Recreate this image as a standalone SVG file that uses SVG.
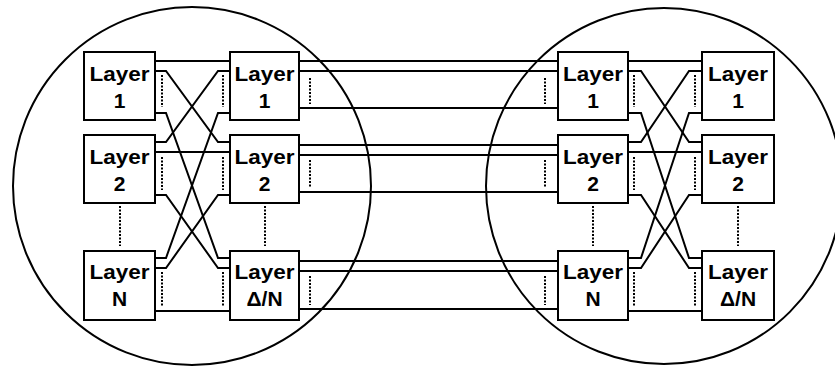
<svg xmlns="http://www.w3.org/2000/svg" width="835" height="369" viewBox="0 0 835 369">
<style>
.c{fill:none;stroke:#000;stroke-width:2}
.b{fill:#fff;stroke:#000;stroke-width:2}
.w{fill:none;stroke:#000;stroke-width:2;stroke-linejoin:miter}
.d{fill:none;stroke:#000;stroke-width:2;stroke-dasharray:2 1.5}
text{font-family:"Liberation Sans",Arial,Helvetica,sans-serif;font-weight:bold;font-size:21px;text-anchor:middle;fill:#000}
</style>
<rect width="835" height="369" fill="#fff"/>
<g id="clusters">
<circle class="c" cx="192" cy="186" r="179"/>
<circle class="c" cx="664" cy="186" r="178"/>
</g>
<g id="connectors">
<!-- left circle internal -->
<path class="w" d="M155 61H230"/>
<path class="w" d="M155 71H166L218 142H230"/>
<path class="w" d="M155 142H166L218 71H230"/>
<path class="w" d="M155 113H166L218 258H230"/>
<path class="w" d="M155 258H166L218 113H230"/>
<path class="w" d="M155 152H230"/>
<path class="w" d="M155 195H166L218 268H230"/>
<path class="w" d="M155 268H166L218 195H230"/>
<path class="w" d="M155 311H230"/>
<!-- between circles -->
<path class="w" d="M299 61H558M299 71H558M299 108H558"/>
<path class="w" d="M299 145H558M299 155H558M299 192H558"/>
<path class="w" d="M299 261H558M299 271H558M299 309H558"/>
<!-- right circle internal -->
<path class="w" d="M628 61H702"/>
<path class="w" d="M628 71H641L689 142H702"/>
<path class="w" d="M628 142H641L689 71H702"/>
<path class="w" d="M628 113H641L689 258H702"/>
<path class="w" d="M628 258H641L689 113H702"/>
<path class="w" d="M628 152H702"/>
<path class="w" d="M628 195H641L689 268H702"/>
<path class="w" d="M628 268H641L689 195H702"/>
<path class="w" d="M628 311H702"/>
<!-- dotted -->
<path class="d" d="M162 75V107M162 157V190M162 272V307"/>
<path class="d" d="M223 75V107M223 157V190M223 272V307"/>
<path class="d" d="M310 78V104M310 160V188M310 276V305"/>
<path class="d" d="M545 78V104M545 160V188M545 276V305"/>
<path class="d" d="M634 75V107M634 157V190M634 272V307"/>
<path class="d" d="M695 75V107M695 157V190M695 272V307"/>
<path class="d" d="M120 206V246M265 206V246M593 206V246M738 206V246"/>
</g>
<g id="L1"><rect class="b" x="84" y="52" width="71" height="68"/><text x="119.5" y="81" textLength="60" lengthAdjust="spacingAndGlyphs">Layer</text><text x="119.5" y="108">1</text></g>
<g id="L2"><rect class="b" x="84" y="135" width="71" height="68"/><text x="119.5" y="164" textLength="60" lengthAdjust="spacingAndGlyphs">Layer</text><text x="119.5" y="191">2</text></g>
<g id="LN"><rect class="b" x="84" y="251" width="71" height="69"/><text x="119.5" y="279" textLength="60" lengthAdjust="spacingAndGlyphs">Layer</text><text x="119.5" y="306">N</text></g>
<g id="LB1"><rect class="b" x="230" y="52" width="69" height="68"/><text x="264.5" y="81" textLength="60" lengthAdjust="spacingAndGlyphs">Layer</text><text x="264.5" y="108">1</text></g>
<g id="LB2"><rect class="b" x="230" y="135" width="69" height="68"/><text x="264.5" y="164" textLength="60" lengthAdjust="spacingAndGlyphs">Layer</text><text x="264.5" y="191">2</text></g>
<g id="LBN"><rect class="b" x="230" y="251" width="69" height="69"/><text x="264.5" y="279" textLength="60" lengthAdjust="spacingAndGlyphs">Layer</text><text x="264.5" y="306">Δ/N</text></g>
<g id="R1"><rect class="b" x="558" y="52" width="70" height="68"/><text x="593" y="81" textLength="60" lengthAdjust="spacingAndGlyphs">Layer</text><text x="593" y="108">1</text></g>
<g id="R2"><rect class="b" x="558" y="135" width="70" height="68"/><text x="593" y="164" textLength="60" lengthAdjust="spacingAndGlyphs">Layer</text><text x="593" y="191">2</text></g>
<g id="RN"><rect class="b" x="558" y="251" width="70" height="69"/><text x="593" y="279" textLength="60" lengthAdjust="spacingAndGlyphs">Layer</text><text x="593" y="306">N</text></g>
<g id="RB1"><rect class="b" x="702" y="52" width="72" height="68"/><text x="738" y="81" textLength="60" lengthAdjust="spacingAndGlyphs">Layer</text><text x="738" y="108">1</text></g>
<g id="RB2"><rect class="b" x="702" y="135" width="72" height="68"/><text x="738" y="164" textLength="60" lengthAdjust="spacingAndGlyphs">Layer</text><text x="738" y="191">2</text></g>
<g id="RBN"><rect class="b" x="702" y="251" width="72" height="69"/><text x="738" y="279" textLength="60" lengthAdjust="spacingAndGlyphs">Layer</text><text x="738" y="306">Δ/N</text></g>
</svg>
